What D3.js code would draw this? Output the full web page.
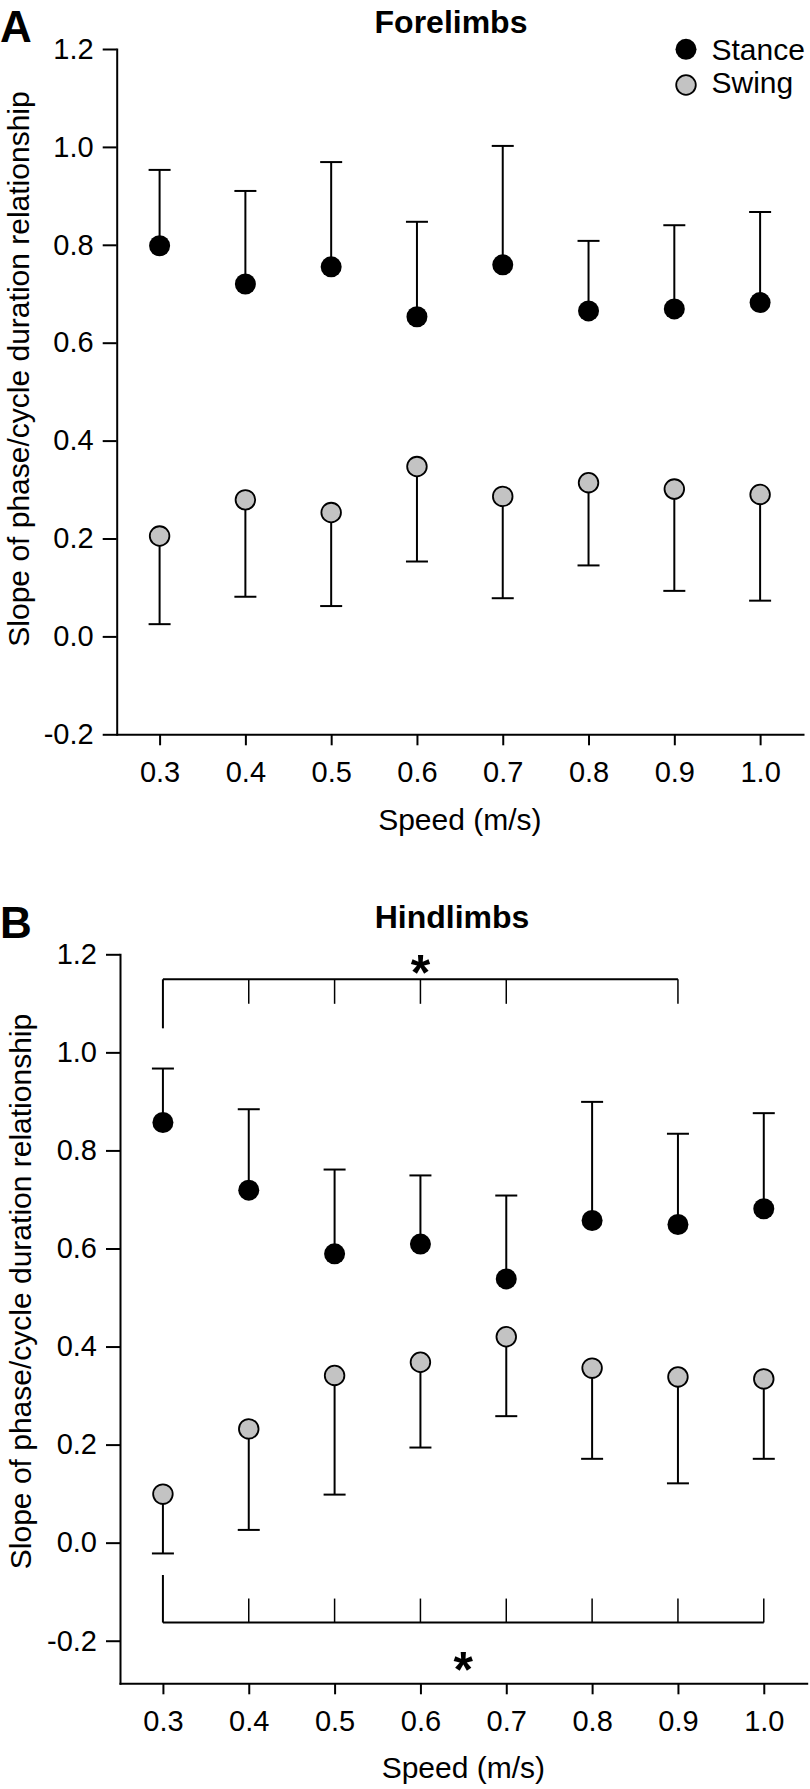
<!DOCTYPE html>
<html>
<head>
<meta charset="utf-8">
<script src="https://cdn.jsdelivr.net/npm/d3@7"></script>
<style>
  html, body { margin: 0; padding: 0; background: #fff; }
  svg { display: block; }
  text { font-family: "Liberation Sans", Arial, sans-serif; fill: #000; }
</style>
</head>
<body>
<script>
// ---------------- DATA ----------------
const speeds = [0.3, 0.4, 0.5, 0.6, 0.7, 0.8, 0.9, 1.0];
const yTickValues = [-0.2, 0.0, 0.2, 0.4, 0.6, 0.8, 1.0, 1.2];
const seriesNames = ["Stance", "Swing"];

// Forelimbs (panel A)
const foreStance      = [0.798, 0.720, 0.755, 0.653, 0.759, 0.665, 0.669, 0.682];
const foreStanceUpper = [0.953, 0.910, 0.969, 0.847, 1.002, 0.808, 0.840, 0.867];
const foreSwing       = [0.205, 0.279, 0.253, 0.347, 0.286, 0.314, 0.301, 0.290];
const foreSwingLower  = [0.025, 0.081, 0.062, 0.153, 0.078, 0.145, 0.093, 0.073];

// Hindlimbs (panel B)
const hindStance      = [0.857, 0.719, 0.589, 0.609, 0.538, 0.657, 0.649, 0.681];
const hindStanceUpper = [0.967, 0.884, 0.761, 0.749, 0.708, 0.899, 0.834, 0.876];
const hindSwing       = [0.099, 0.232, 0.341, 0.368, 0.420, 0.356, 0.338, 0.334];
const hindSwingLower  = [-0.022, 0.026, 0.098, 0.194, 0.258, 0.171, 0.121, 0.171];

// Significance brackets (panel B)
const topBracketSpan   = [0.3, 0.9];
const topBracketLevels = [1.149, 1.049, 1.099];   // line, long end, short ticks
const topBracketTicks  = [0.4, 0.5, 0.6, 0.7, 0.9];
const topStar          = [0.6, 1.188];
const botBracketSpan   = [0.3, 1.0];
const botBracketLevels = [-0.163, -0.066, -0.114];
const botBracketTicks  = [0.4, 0.5, 0.6, 0.7, 0.8, 0.9, 1.0];
const botStar          = [0.65, -0.233];

// ---------------- DRAW ----------------
const W = 810, H = 1789;
const svg = d3.select("body").append("svg").attr("width", W).attr("height", H);
const FONT_TICK = 29, FONT_LABEL = 30, FONT_TITLE = 32;
const swingFill = "#c3c3c3";

function drawPanel(p) {
  const x = d3.scaleLinear().domain([0.25, 1.05]).range(p.xRange);
  const y = d3.scaleLinear().domain(p.yDomain).range(p.yRange);
  const g = svg.append("g");
  const fmt = d => d.toFixed(1);

  // X axis
  const gx = g.append("g")
    .attr("transform", `translate(0,${p.yRange[0]})`)
    .call(d3.axisBottom(x).tickValues(speeds).tickFormat(fmt).tickSize(11).tickSizeOuter(0));
  // Y axis
  const gy = g.append("g")
    .attr("transform", `translate(${p.xRange[0]},0)`)
    .call(d3.axisLeft(y).tickValues(yTickValues).tickFormat(fmt).tickSize(14).tickPadding(9).tickSizeOuter(0));

  [gx, gy].forEach(a => {
    a.select(".domain").attr("stroke", "#000").attr("stroke-width", 2).attr("stroke-linecap", "square");
    a.selectAll(".tick line").attr("stroke", "#000").attr("stroke-width", 2);
    a.selectAll(".tick text").attr("font-size", FONT_TICK).attr("fill", "#000")
      .attr("font-family", '"Liberation Sans", Arial, sans-serif');
  });
  gx.selectAll(".tick text").attr("y", p.xLabelOffset).attr("dy", 0);

  // Axis titles
  g.append("text")
    .attr("x", (p.xRange[0] + p.xRange[1]) / 2)
    .attr("y", p.xTitleY)
    .attr("text-anchor", "middle")
    .attr("font-size", FONT_LABEL)
    .text("Speed (m/s)");
  g.append("text")
    .attr("transform", `translate(${p.yTitleX},${p.yTitleY}) rotate(-90)`)
    .attr("text-anchor", "middle")
    .attr("font-size", FONT_LABEL)
    .text("Slope of phase/cycle duration relationship");

  // Panel title and letter
  g.append("text")
    .attr("x", p.titleX).attr("y", p.titleY)
    .attr("text-anchor", "middle")
    .attr("font-size", FONT_TITLE).attr("font-weight", "bold")
    .text(p.title);
  g.append("text")
    .attr("x", 0).attr("y", p.letterY)
    .attr("font-size", 44).attr("font-weight", "bold")
    .text(p.letter);

  const capW = 11;
  // Stance error bars (upper)
  const sData = speeds.map((s, i) => ({ s, v: p.stance[i], e: p.stanceUpper[i] }));
  const wData = speeds.map((s, i) => ({ s, v: p.swing[i], e: p.swingLower[i] }));
  [sData, wData].forEach(data => {
    g.append("g").selectAll("line.bar").data(data).join("line")
      .attr("x1", d => x(d.s)).attr("x2", d => x(d.s))
      .attr("y1", d => y(d.v)).attr("y2", d => y(d.e))
      .attr("stroke", "#000").attr("stroke-width", 2);
    g.append("g").selectAll("line.cap").data(data).join("line")
      .attr("x1", d => x(d.s) - capW).attr("x2", d => x(d.s) + capW)
      .attr("y1", d => y(d.e)).attr("y2", d => y(d.e))
      .attr("stroke", "#000").attr("stroke-width", 2);
  });
  g.append("g").selectAll("circle").data(sData).join("circle")
    .attr("cx", d => x(d.s)).attr("cy", d => y(d.v)).attr("r", 10.5)
    .attr("fill", "#000");
  g.append("g").selectAll("circle").data(wData).join("circle")
    .attr("cx", d => x(d.s)).attr("cy", d => y(d.v)).attr("r", 9.8)
    .attr("fill", swingFill).attr("stroke", "#000").attr("stroke-width", 1.8);

  return { x, y, g };
}

const A = drawPanel({
  xRange: [116.7, 803], yDomain: [-0.2, 1.2], yRange: [734.3, 49],
  xLabelOffset: 48, xTitleY: 830, yTitleX: 29, yTitleY: 369,
  title: "Forelimbs", titleX: 451, titleY: 33.3, letter: "A", letterY: 42,
  stance: foreStance, stanceUpper: foreStanceUpper, swing: foreSwing, swingLower: foreSwingLower
});

const B = drawPanel({
  xRange: [120, 806.7], yDomain: [1.2 - (1683.3 - 954.3) / 490.3, 1.2], yRange: [1683.3, 954.3],
  xLabelOffset: 47.5, xTitleY: 1778, yTitleX: 31, yTitleY: 1291.5,
  title: "Hindlimbs", titleX: 452, titleY: 928.3, letter: "B", letterY: 938,
  stance: hindStance, stanceUpper: hindStanceUpper, swing: hindSwing, swingLower: hindSwingLower
});

// Legend (panel A)
const legY = [49.3, 85];
const legBase = [60, 93];
const legG = svg.append("g");
seriesNames.forEach((name, i) => {
  legG.append("circle").attr("cx", 686).attr("cy", legY[i])
    .attr("r", i === 0 ? 10.5 : 9.8)
    .attr("fill", i === 0 ? "#000" : swingFill)
    .attr("stroke", i === 0 ? "none" : "#000").attr("stroke-width", 1.8);
  legG.append("text").attr("x", 711.5).attr("y", legBase[i])
    .attr("font-size", FONT_TICK + 1).text(name);
});

// Significance brackets (panel B)
function bracket(P, span, levels, ticks, star, up) {
  const { x, y, g } = P;
  const bg = g.append("g").attr("fill", "none").attr("stroke", "#000");
  bg.append("line")
    .attr("x1", x(span[0])).attr("x2", x(span[1]))
    .attr("y1", y(levels[0])).attr("y2", y(levels[0]))
    .attr("stroke-width", 2);
  bg.append("line")
    .attr("x1", x(span[0])).attr("x2", x(span[0]))
    .attr("y1", y(levels[0])).attr("y2", y(levels[1]))
    .attr("stroke-width", 2);
  bg.selectAll("line.t").data(ticks).join("line")
    .attr("x1", d => x(d)).attr("x2", d => x(d))
    .attr("y1", y(levels[0])).attr("y2", y(levels[2]))
    .attr("stroke-width", 1.5);
  g.append("text")
    .attr("x", x(star[0])).attr("y", y(star[1]))
    .attr("dy", "0.6em")
    .attr("text-anchor", "middle")
    .attr("font-size", 50).attr("font-weight", "bold")
    .text("*");
}
bracket(B, topBracketSpan, topBracketLevels, topBracketTicks, topStar);
bracket(B, botBracketSpan, botBracketLevels, botBracketTicks, botStar);
</script>
</body>
</html>
